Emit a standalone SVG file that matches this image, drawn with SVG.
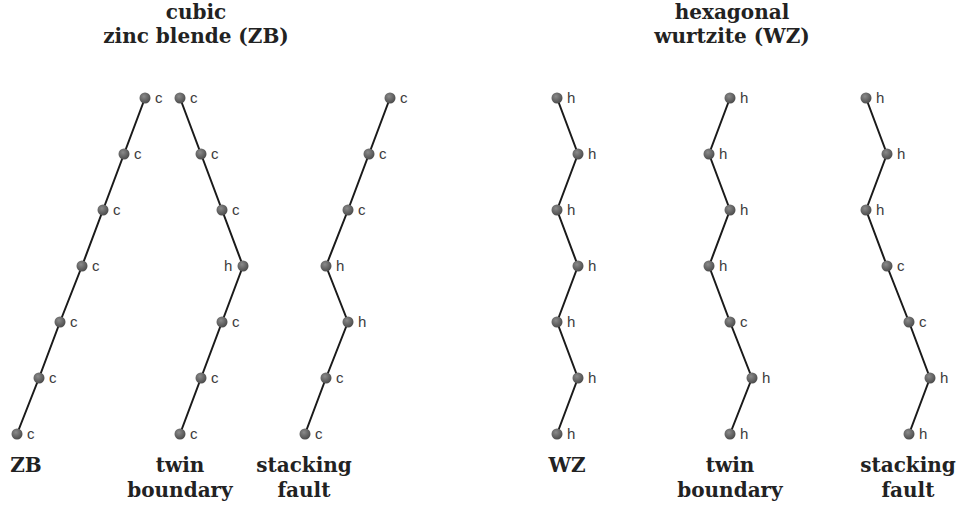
<svg xmlns="http://www.w3.org/2000/svg" width="962" height="508" viewBox="0 0 962 508">
  <style>
    .title { font-family: "DejaVu Serif", serif; font-weight: bold; font-size: 20px; fill: #222222; text-anchor: middle; }
    .lab { font-family: "Liberation Sans", Arial, sans-serif; font-size: 15px; fill: #3c3c3c; }
    .bond { fill: none; stroke: #1a1a1a; stroke-width: 2; stroke-linejoin: round; }
    .atom { fill: url(#ball); }
  </style>
  <defs>
    <radialGradient id="ball" cx="0.4" cy="0.35" r="0.7">
      <stop offset="0" stop-color="#8a8a8a"/>
      <stop offset="1" stop-color="#474747"/>
    </radialGradient>
  </defs>
  <rect width="962" height="508" fill="#ffffff"/>

  <!-- headings -->
  <g id="heading-zb">
    <text class="title" x="196" y="19">cubic</text>
    <text class="title" x="196" y="43">zinc blende (ZB)</text>
  </g>
  <g id="heading-wz">
    <text class="title" x="732" y="19">hexagonal</text>
    <text class="title" x="732" y="43">wurtzite (WZ)</text>
  </g>

  <!-- bonds -->
  <g id="connectors">
    <polyline class="bond" points="145,98 124,154 103,210 82,266 60,322 39,378 17,434"/>
    <polyline class="bond" points="180,98 201,154 222,210 243,266 222,322 201,378 180,434"/>
    <polyline class="bond" points="390,98 369,154 348,210 326,266 348,322 326,378 305,434"/>
    <polyline class="bond" points="557,98 578,154 557,210 578,266 557,322 578,378 557,434"/>
    <polyline class="bond" points="730,98 709,154 730,210 709,266 730,322 752,378 730,434"/>
    <polyline class="bond" points="866,98 887,154 866,210 887,266 909,322 930,378 909,434"/>
  </g>

  <!-- ZB stack -->
  <g id="chain-zb">
    <circle class="atom" cx="145" cy="98" r="5.5"/><text class="lab" x="155" y="103">c</text>
    <circle class="atom" cx="124" cy="154" r="5.5"/><text class="lab" x="134" y="159">c</text>
    <circle class="atom" cx="103" cy="210" r="5.5"/><text class="lab" x="113" y="215">c</text>
    <circle class="atom" cx="82" cy="266" r="5.5"/><text class="lab" x="92" y="271">c</text>
    <circle class="atom" cx="60" cy="322" r="5.5"/><text class="lab" x="70" y="327">c</text>
    <circle class="atom" cx="39" cy="378" r="5.5"/><text class="lab" x="49" y="383">c</text>
    <circle class="atom" cx="17" cy="434" r="5.5"/><text class="lab" x="27" y="439">c</text>
    <text class="title" x="26" y="472">ZB</text>
  </g>

  <!-- ZB twin boundary -->
  <g id="chain-zb-twin">
    <circle class="atom" cx="180" cy="98" r="5.5"/><text class="lab" x="190" y="103">c</text>
    <circle class="atom" cx="201" cy="154" r="5.5"/><text class="lab" x="211" y="159">c</text>
    <circle class="atom" cx="222" cy="210" r="5.5"/><text class="lab" x="232" y="215">c</text>
    <circle class="atom" cx="243" cy="266" r="5.5"/><text class="lab" x="224" y="271">h</text>
    <circle class="atom" cx="222" cy="322" r="5.5"/><text class="lab" x="232" y="327">c</text>
    <circle class="atom" cx="201" cy="378" r="5.5"/><text class="lab" x="211" y="383">c</text>
    <circle class="atom" cx="180" cy="434" r="5.5"/><text class="lab" x="190" y="439">c</text>
    <text class="title" x="180" y="472">twin</text>
    <text class="title" x="180" y="497">boundary</text>
  </g>

  <!-- ZB stacking fault -->
  <g id="chain-zb-fault">
    <circle class="atom" cx="390" cy="98" r="5.5"/><text class="lab" x="400" y="103">c</text>
    <circle class="atom" cx="369" cy="154" r="5.5"/><text class="lab" x="379" y="159">c</text>
    <circle class="atom" cx="348" cy="210" r="5.5"/><text class="lab" x="358" y="215">c</text>
    <circle class="atom" cx="326" cy="266" r="5.5"/><text class="lab" x="336" y="271">h</text>
    <circle class="atom" cx="348" cy="322" r="5.5"/><text class="lab" x="358" y="327">h</text>
    <circle class="atom" cx="326" cy="378" r="5.5"/><text class="lab" x="336" y="383">c</text>
    <circle class="atom" cx="305" cy="434" r="5.5"/><text class="lab" x="315" y="439">c</text>
    <text class="title" x="304" y="472">stacking</text>
    <text class="title" x="304" y="497">fault</text>
  </g>

  <!-- WZ stack -->
  <g id="chain-wz">
    <circle class="atom" cx="557" cy="98" r="5.5"/><text class="lab" x="567" y="103">h</text>
    <circle class="atom" cx="578" cy="154" r="5.5"/><text class="lab" x="588" y="159">h</text>
    <circle class="atom" cx="557" cy="210" r="5.5"/><text class="lab" x="567" y="215">h</text>
    <circle class="atom" cx="578" cy="266" r="5.5"/><text class="lab" x="588" y="271">h</text>
    <circle class="atom" cx="557" cy="322" r="5.5"/><text class="lab" x="567" y="327">h</text>
    <circle class="atom" cx="578" cy="378" r="5.5"/><text class="lab" x="588" y="383">h</text>
    <circle class="atom" cx="557" cy="434" r="5.5"/><text class="lab" x="567" y="439">h</text>
    <text class="title" x="567" y="472">WZ</text>
  </g>

  <!-- WZ twin boundary -->
  <g id="chain-wz-twin">
    <circle class="atom" cx="730" cy="98" r="5.5"/><text class="lab" x="740" y="103">h</text>
    <circle class="atom" cx="709" cy="154" r="5.5"/><text class="lab" x="719" y="159">h</text>
    <circle class="atom" cx="730" cy="210" r="5.5"/><text class="lab" x="740" y="215">h</text>
    <circle class="atom" cx="709" cy="266" r="5.5"/><text class="lab" x="719" y="271">h</text>
    <circle class="atom" cx="730" cy="322" r="5.5"/><text class="lab" x="740" y="327">c</text>
    <circle class="atom" cx="752" cy="378" r="5.5"/><text class="lab" x="762" y="383">h</text>
    <circle class="atom" cx="730" cy="434" r="5.5"/><text class="lab" x="740" y="439">h</text>
    <text class="title" x="730" y="472">twin</text>
    <text class="title" x="730" y="497">boundary</text>
  </g>

  <!-- WZ stacking fault -->
  <g id="chain-wz-fault">
    <circle class="atom" cx="866" cy="98" r="5.5"/><text class="lab" x="876" y="103">h</text>
    <circle class="atom" cx="887" cy="154" r="5.5"/><text class="lab" x="897" y="159">h</text>
    <circle class="atom" cx="866" cy="210" r="5.5"/><text class="lab" x="876" y="215">h</text>
    <circle class="atom" cx="887" cy="266" r="5.5"/><text class="lab" x="897" y="271">c</text>
    <circle class="atom" cx="909" cy="322" r="5.5"/><text class="lab" x="919" y="327">c</text>
    <circle class="atom" cx="930" cy="378" r="5.5"/><text class="lab" x="940" y="383">h</text>
    <circle class="atom" cx="909" cy="434" r="5.5"/><text class="lab" x="919" y="439">h</text>
    <text class="title" x="908" y="472">stacking</text>
    <text class="title" x="908" y="497">fault</text>
  </g>
</svg>
